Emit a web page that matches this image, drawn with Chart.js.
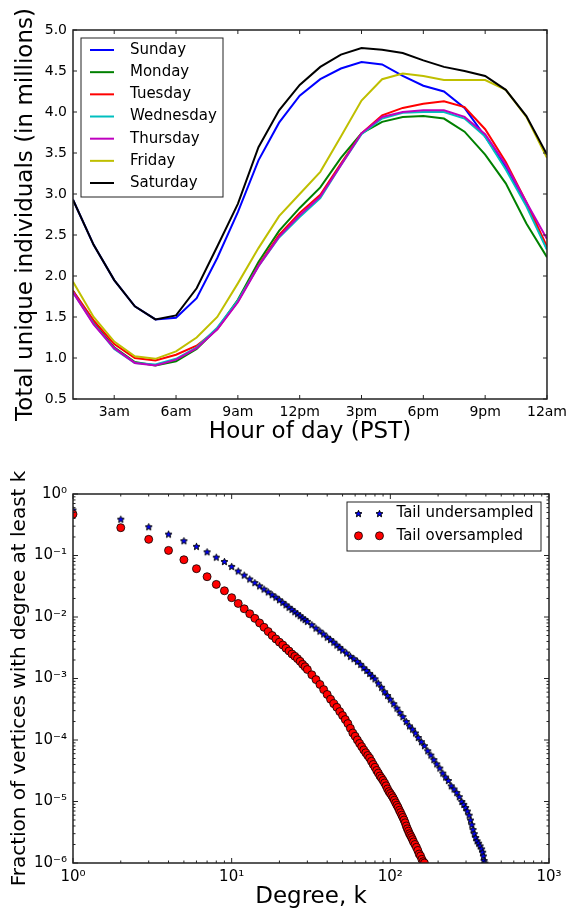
<!DOCTYPE html>
<html>
<head>
<meta charset="utf-8">
<title>Hourly activity and degree distribution</title>
<script src="https://cdn.jsdelivr.net/npm/chart.js@4.4.1/dist/chart.umd.min.js"></script>
<style>
  html, body { margin: 0; padding: 0; background: #fff; }
  #wrap { position: relative; width: 572px; height: 912px; overflow: hidden; }
  canvas { position: absolute; left: 0; }
  #hourChart { top: 0; }
  #degreeChart { top: 450px; }
</style>
</head>
<body>
<div id="wrap">
  <canvas id="hourChart" width="572" height="450"></canvas>
  <canvas id="degreeChart" width="572" height="462"></canvas>
</div>
<script>
// --- top chart: unique individuals per hour (millions) ---
var hours = [1, 2, 3, 4, 5, 6, 7, 8, 9, 10, 11, 12, 13, 14, 15, 16, 17, 18, 19, 20, 21, 22, 23, 24];
var hourTicks = [3, 6, 9, 12, 15, 18, 21, 24];
var hourTickLabels = ['3am', '6am', '9am', '12pm', '3pm', '6pm', '9pm', '12am'];
var dayNames = ['Sunday', 'Monday', 'Tuesday', 'Wednesday', 'Thursday', 'Friday', 'Saturday'];

var sunday    = [2.93, 2.38, 1.95, 1.63, 1.47, 1.49, 1.73, 2.22, 2.78, 3.41, 3.87, 4.20, 4.40, 4.53, 4.61, 4.58, 4.44, 4.32, 4.25, 4.05, 3.70, 3.33, 2.88, 2.33];
var monday    = [1.82, 1.43, 1.13, 0.95, 0.91, 0.96, 1.11, 1.36, 1.71, 2.17, 2.55, 2.83, 3.08, 3.44, 3.74, 3.88, 3.94, 3.95, 3.92, 3.76, 3.48, 3.13, 2.64, 2.23];
var tuesday   = [1.82, 1.46, 1.17, 1.00, 0.97, 1.04, 1.15, 1.35, 1.69, 2.13, 2.50, 2.77, 2.99, 3.37, 3.74, 3.96, 4.05, 4.10, 4.13, 4.06, 3.79, 3.39, 2.90, 2.36];
var wednesday = [1.80, 1.42, 1.11, 0.94, 0.92, 0.99, 1.13, 1.37, 1.70, 2.12, 2.47, 2.72, 2.95, 3.35, 3.73, 3.92, 3.99, 4.00, 4.00, 3.92, 3.70, 3.30, 2.85, 2.32];
var thursday  = [1.80, 1.41, 1.12, 0.94, 0.91, 0.98, 1.12, 1.35, 1.68, 2.12, 2.48, 2.74, 2.97, 3.35, 3.74, 3.94, 4.00, 4.02, 4.02, 3.94, 3.73, 3.36, 2.90, 2.45];
var friday    = [1.93, 1.50, 1.20, 1.02, 0.99, 1.08, 1.25, 1.50, 1.91, 2.34, 2.73, 3.00, 3.27, 3.70, 4.14, 4.40, 4.47, 4.44, 4.39, 4.39, 4.39, 4.27, 3.94, 3.44];
var saturday  = [2.93, 2.38, 1.95, 1.63, 1.47, 1.52, 1.85, 2.36, 2.88, 3.57, 4.02, 4.33, 4.55, 4.70, 4.78, 4.76, 4.72, 4.63, 4.55, 4.50, 4.44, 4.27, 3.95, 3.48];

// --- bottom chart: fraction of vertices with degree >= k ---
var degreeTicks = [1, 10, 100, 1000];
var fractionTicks = [1e-6, 1e-5, 1e-4, 1e-3, 1e-2, 1e-1, 1];

var underK = [1, 2, 3, 4, 5, 6, 7, 8, 9, 10, 11, 12, 13, 14, 15, 16, 17, 18, 19, 20,
  21, 22, 23, 24, 25, 26, 27, 28, 29, 30, 32, 34, 36, 38, 40, 42, 44, 46, 48, 50,
  53, 56, 59, 62, 65, 68, 71, 74, 77, 80, 84, 88, 92, 96, 100, 105, 110, 115, 120, 126,
  132, 138, 144, 150, 157, 164, 172, 180, 188, 196, 205, 214, 223, 232, 242, 252, 262, 272, 282, 290,
  298, 306, 314, 320, 326, 332, 338, 345, 352, 360, 368, 376, 382, 386, 390, 394];
var underFrac = [0.55, 0.39, 0.294, 0.223, 0.174, 0.141, 0.115, 0.094, 0.080, 0.0665, 0.0560, 0.0480, 0.0415, 0.0363, 0.0321, 0.0285, 0.0256, 0.0231, 0.0210, 0.0191,
  0.0173, 0.0158, 0.0144, 0.0133, 0.0122, 0.0113, 0.0105, 0.0097, 0.0091, 0.0085, 0.0075, 0.0066, 0.0059, 0.0053, 0.0047, 0.0043, 0.0039, 0.0035, 0.0032, 0.0029,
  0.0026, 0.0023, 0.0021, 0.0019, 0.0017, 0.0015, 0.00135, 0.00121, 0.00109, 0.00099, 8.4e-4, 7.2e-4, 6.1e-4, 5.3e-4, 4.6e-4, 3.9e-4, 3.3e-4, 2.8e-4, 2.4e-4, 2.0e-4,
  1.7e-4, 1.5e-4, 1.3e-4, 1.1e-4, 9.4e-5, 8.1e-5, 6.7e-5, 5.7e-5, 4.8e-5, 4.1e-5, 3.5e-5, 2.9e-5, 2.5e-5, 2.2e-5, 1.8e-5, 1.6e-5, 1.4e-5, 1.2e-5, 1.0e-5, 9.0e-6,
  8.0e-6, 7.0e-6, 6.0e-6, 5.0e-6, 4.2e-6, 3.5e-6, 3.0e-6, 2.6e-6, 2.3e-6, 2.1e-6, 1.9e-6, 1.7e-6, 1.5e-6, 1.3e-6, 1.1e-6, 1.0e-6];

var overK = [1, 2, 3, 4, 5, 6, 7, 8, 9, 10, 11, 12, 13, 14, 15, 16, 17, 18, 19, 20,
  21, 22, 23, 24, 25, 26, 27, 28, 29, 30, 32, 34, 36, 38, 40, 42, 44, 46, 48, 50,
  52, 54, 56, 58, 60, 62, 64, 66, 68, 70, 72, 74, 76, 78, 80, 82, 84, 86, 88, 90,
  92, 94, 96, 98, 100, 102, 104, 106, 108, 110, 112, 114, 116, 118, 120, 122, 124, 126, 128, 130,
  132, 134, 136, 138, 140, 143, 146, 149, 152, 155, 158, 161, 164];
var overFrac = [0.47, 0.283, 0.183, 0.121, 0.0853, 0.061, 0.0452, 0.0339, 0.0267, 0.0206, 0.0166, 0.0136, 0.0113, 0.0095, 0.0080, 0.0068, 0.0058, 0.0050, 0.0044, 0.0039,
  0.0035, 0.0031, 0.0028, 0.0025, 0.0023, 0.0021, 0.0019, 0.0017, 0.00155, 0.0014, 0.00115, 0.00096, 8.0e-4, 6.6e-4, 5.5e-4, 4.6e-4, 3.9e-4, 3.4e-4, 2.9e-4, 2.5e-4,
  2.15e-4, 1.85e-4, 1.55e-4, 1.3e-4, 1.15e-4, 1.0e-4, 8.8e-5, 7.8e-5, 6.9e-5, 6.2e-5, 5.6e-5, 5.1e-5, 4.5e-5, 4.0e-5, 3.6e-5, 3.2e-5, 2.9e-5, 2.6e-5, 2.4e-5, 2.2e-5,
  2.0e-5, 1.8e-5, 1.6e-5, 1.45e-5, 1.35e-5, 1.25e-5, 1.15e-5, 1.05e-5, 9.5e-6, 8.7e-6, 8.0e-6, 7.2e-6, 6.6e-6, 6.0e-6, 5.5e-6, 5.0e-6, 4.5e-6, 4.0e-6, 3.6e-6, 3.3e-6,
  3.0e-6, 2.8e-6, 2.6e-6, 2.4e-6, 2.2e-6, 2.0e-6, 1.8e-6, 1.6e-6, 1.4e-6, 1.3e-6, 1.15e-6, 1.05e-6, 1.0e-6];

Chart.defaults.font.family = '"DejaVu Sans", sans-serif';
Chart.defaults.color = '#000';

var lineColors = ['#0000ff', '#008000', '#ff0000', '#00bfbf', '#bf00bf', '#bfbf00', '#000000'];
var supDigits = { '0': '\u2070', '1': '\u00b9', '2': '\u00b2', '3': '\u00b3', '4': '\u2074', '5': '\u2075', '6': '\u2076', '-': '\u207b' };

function powLabel(v) {
    var e = Math.round(Math.log10(v));
    return '10' + String(e).split('').map(function (c) { return supDigits[c]; }).join('');
}

// filled five-point star like matplotlib's '*' marker
function makeStar(r) {
    var c = document.createElement('canvas');
    var s = Math.ceil(r * 2 + 3);
    c.width = s; c.height = s;
    var g = c.getContext('2d');
    g.translate(s / 2, s / 2 + 0.4);
    g.beginPath();
    for (var i = 0; i < 10; i++) {
        var rad = i % 2 ? r * 0.45 : r;
        var a = -Math.PI / 2 + i * Math.PI / 5;
        g.lineTo(rad * Math.cos(a), rad * Math.sin(a));
    }
    g.closePath();
    g.fillStyle = '#0000ff';
    g.fill();
    g.lineWidth = 1;
    g.strokeStyle = '#000';
    g.stroke();
    return c;
}

// frame on all four sides with inward ticks (minor ticks on log axes)
var frameTicks = {
    id: 'frameTicks',
    afterDatasetsDraw: function (chart, args, opts) {
        var ctx = chart.ctx, a = chart.chartArea;
        ctx.save();
        ctx.strokeStyle = '#222';
        ctx.lineWidth = 1;
        Object.keys(chart.scales).forEach(function (id) {
            var scale = chart.scales[id];
            var mark = function (v, len) {
                var p = scale.getPixelForValue(v);
                ctx.beginPath();
                if (scale.isHorizontal()) {
                    ctx.moveTo(p, a.bottom); ctx.lineTo(p, a.bottom - len);
                    ctx.moveTo(p, a.top); ctx.lineTo(p, a.top + len);
                } else {
                    ctx.moveTo(a.left, p); ctx.lineTo(a.left + len, p);
                    ctx.moveTo(a.right, p); ctx.lineTo(a.right - len, p);
                }
                ctx.stroke();
            };
            scale.ticks.forEach(function (t) { mark(t.value, opts.major); });
            if (scale.type === 'logarithmic') {
                var lo = Math.round(Math.log10(scale.min)), hi = Math.round(Math.log10(scale.max));
                for (var e = lo; e < hi; e++) {
                    for (var d = 2; d < 10; d++) mark(d * Math.pow(10, e), opts.minor);
                }
            }
        });
        ctx.lineWidth = 1.5;
        ctx.strokeRect(a.left, a.top, a.right - a.left, a.bottom - a.top);
        ctx.restore();
    }
};

// boxed legend placed inside the plot, matplotlib style
var boxLegend = {
    id: 'boxLegend',
    afterDraw: function (chart, args, o) {
        var ctx = chart.ctx;
        ctx.save();
        ctx.fillStyle = '#fff';
        ctx.fillRect(o.left, o.top, o.width, o.height);
        ctx.strokeStyle = '#222';
        ctx.lineWidth = 1;
        ctx.strokeRect(o.left, o.top, o.width, o.height);
        ctx.font = o.fontSize + 'px "DejaVu Sans"';
        ctx.textBaseline = 'middle';
        chart.data.datasets.forEach(function (ds, i) {
            var y = o.firstY + i * o.rowGap;
            if (o.kind === 'line') {
                ctx.strokeStyle = ds.borderColor;
                ctx.lineWidth = ds.borderWidth;
                ctx.beginPath();
                ctx.moveTo(o.sampleX[0], y);
                ctx.lineTo(o.sampleX[1], y);
                ctx.stroke();
            } else {
                o.sampleX.forEach(function (x) {
                    if (ds.pointStyle instanceof HTMLCanvasElement) {
                        ctx.drawImage(ds.pointStyle, x - ds.pointStyle.width / 2, y - ds.pointStyle.height / 2);
                    } else {
                        ctx.beginPath();
                        ctx.arc(x, y, ds.pointRadius, 0, Math.PI * 2);
                        ctx.fillStyle = ds.backgroundColor;
                        ctx.fill();
                        ctx.strokeStyle = ds.borderColor;
                        ctx.lineWidth = ds.borderWidth;
                        ctx.stroke();
                    }
                });
            }
            ctx.fillStyle = '#000';
            ctx.fillText(ds.label, o.textX, y);
        });
        ctx.restore();
    }
};

var daySeries = [sunday, monday, tuesday, wednesday, thursday, friday, saturday];

new Chart(document.getElementById('hourChart'), {
    type: 'line',
    data: {
        datasets: daySeries.map(function (vals, i) {
            return {
                label: dayNames[i],
                data: hours.map(function (h, j) { return { x: h, y: vals[j] }; }),
                borderColor: lineColors[i],
                backgroundColor: lineColors[i],
                borderWidth: 2,
                pointRadius: 0,
                tension: 0,
                fill: false,
                order: dayNames.length - 1 - i
            };
        })
    },
    options: {
        responsive: false,
        animation: false,
        events: [],
        layout: { padding: { top: 30, right: 23, left: 0, bottom: 0 } },
        plugins: {
            legend: { display: false },
            tooltip: { enabled: false },
            frameTicks: { major: 4, minor: 2 },
            boxLegend: { kind: 'line', left: 81, top: 38, width: 142, height: 159, firstY: 50, rowGap: 22.17, sampleX: [90, 114], textX: 130, fontSize: 15 }
        },
        scales: {
            x: {
                type: 'linear',
                min: 1,
                max: 24,
                afterBuildTicks: function (s) { s.ticks = hourTicks.map(function (v) { return { value: v }; }); },
                afterFit: function (s) { s.height = 51; },
                ticks: {
                    autoSkip: false,
                    maxRotation: 0,
                    padding: 5,
                    font: { size: 14 },
                    callback: function (v) { return hourTickLabels[hourTicks.indexOf(v)]; }
                },
                grid: { display: false, drawTicks: false },
                border: { display: false },
                title: { display: true, text: 'Hour of day (PST)', font: { size: 23 }, padding: { top: 0, bottom: 4 } }
            },
            y: {
                min: 0.5,
                max: 5.0,
                afterFit: function (s) { s.width = 73; },
                ticks: {
                    stepSize: 0.5,
                    padding: 6,
                    font: { size: 14 },
                    callback: function (v) { return v.toFixed(1); }
                },
                grid: { display: false, drawTicks: false },
                border: { display: false },
                title: { display: true, text: 'Total unique individuals (in millions)', font: { size: 23 }, padding: { top: 12, bottom: 0 } }
            }
        }
    },
    plugins: [frameTicks, boxLegend]
});

new Chart(document.getElementById('degreeChart'), {
    type: 'scatter',
    data: {
        datasets: [
            {
                label: 'Tail undersampled',
                data: underK.map(function (k, i) { return { x: k, y: underFrac[i] }; }),
                pointStyle: makeStar(3.6),
                pointRadius: 4,
                order: 1,
                clip: 0
            },
            {
                label: 'Tail oversampled',
                data: overK.map(function (k, i) { return { x: k, y: overFrac[i] }; }),
                pointStyle: 'circle',
                pointRadius: 4,
                backgroundColor: '#ff0000',
                borderColor: '#000',
                borderWidth: 0.8,
                order: 0,
                clip: 0
            }
        ]
    },
    options: {
        responsive: false,
        animation: false,
        events: [],
        layout: { padding: { top: 44, right: 23, left: 0, bottom: 0 } },
        plugins: {
            legend: { display: false },
            tooltip: { enabled: false },
            frameTicks: { major: 5, minor: 2.5 },
            boxLegend: { kind: 'marker', left: 347, top: 52, width: 194, height: 49, firstY: 63.5, rowGap: 22.3, sampleX: [358.5, 379.5], textX: 396.5, fontSize: 15 }
        },
        scales: {
            x: {
                type: 'logarithmic',
                min: 1,
                max: 1000,
                afterBuildTicks: function (s) { s.ticks = degreeTicks.map(function (v) { return { value: v }; }); },
                afterFit: function (s) { s.height = 49; },
                ticks: {
                    autoSkip: false,
                    maxRotation: 0,
                    padding: 5,
                    font: { size: 15 },
                    callback: function (v) { return powLabel(v); }
                },
                grid: { display: false, drawTicks: false },
                border: { display: false },
                title: { display: true, text: 'Degree, k', font: { size: 23 }, padding: { top: 0, bottom: 1 } }
            },
            y: {
                type: 'logarithmic',
                min: 1e-6,
                max: 1,
                afterBuildTicks: function (s) { s.ticks = fractionTicks.map(function (v) { return { value: v }; }); },
                afterFit: function (s) { s.width = 73; },
                ticks: {
                    autoSkip: false,
                    padding: 6,
                    font: { size: 15 },
                    callback: function (v) { return powLabel(v); }
                },
                grid: { display: false, drawTicks: false },
                border: { display: false },
                title: { display: true, text: 'Fraction of vertices with degree at least k', font: { size: 20 }, padding: { top: 8, bottom: 0 } }
            }
        }
    },
    plugins: [frameTicks, boxLegend]
});
</script>
</body>
</html>
